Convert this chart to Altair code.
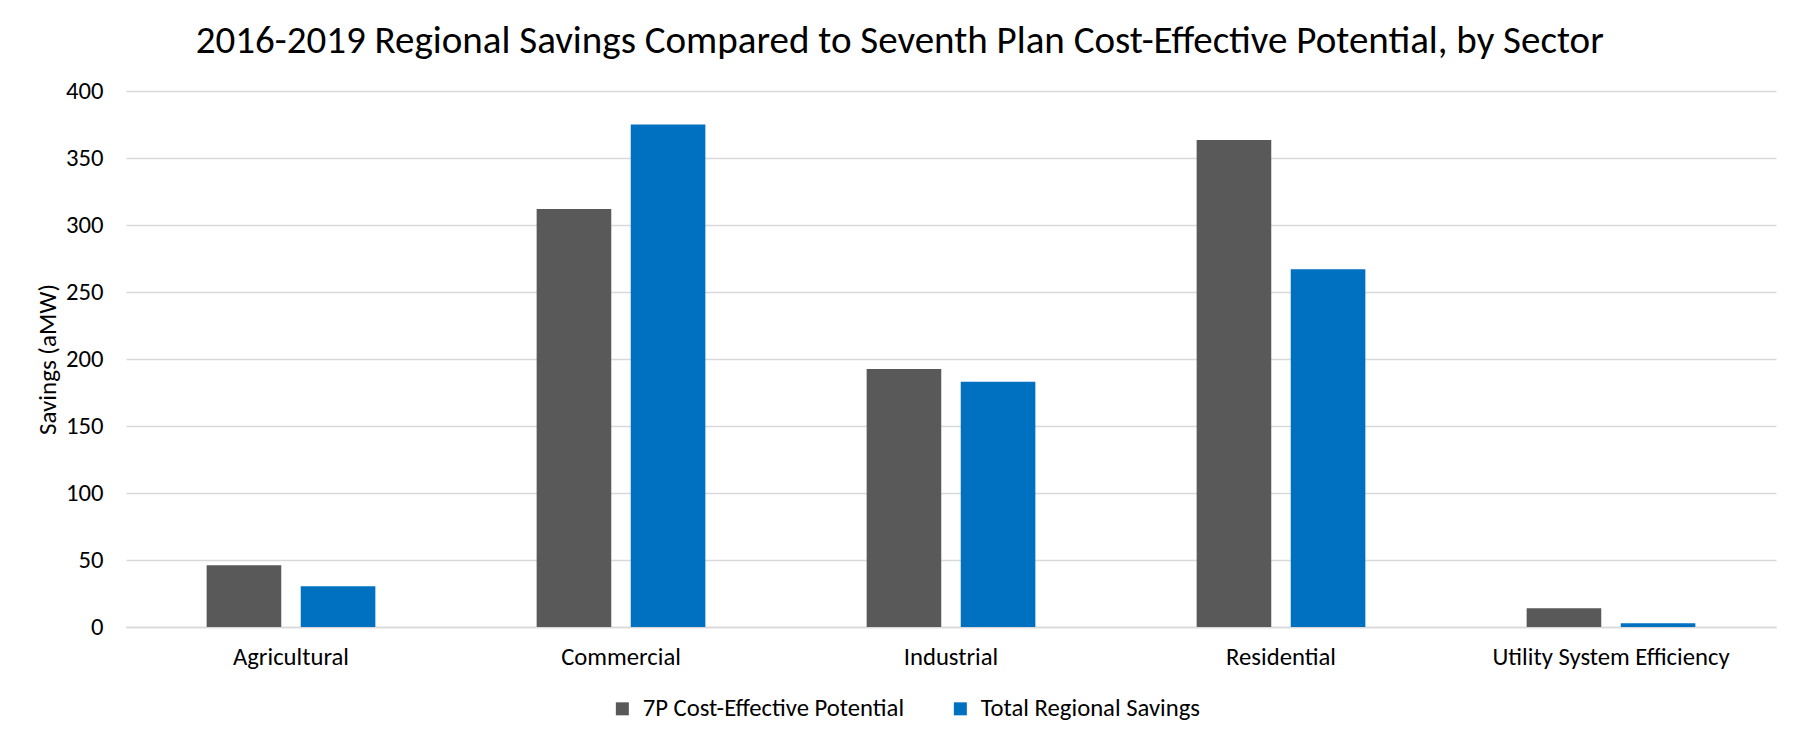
import altair as alt
import pandas as pd

sectors = ["Agricultural", "Commercial", "Industrial", "Residential", "Utility System Efficiency"]
series = ["7P Cost-Effective Potential", "Total Regional Savings"]
potential = [46, 312, 192.5, 363.5, 14]
savings = [30.5, 375, 183, 267, 2.8]
y_ticks = [0, 50, 100, 150, 200, 250, 300, 350, 400]
colors = ["#595959", "#0070C0"]

rows = []
for s, p, v in zip(sectors, potential, savings):
    rows.append({"Sector": s, "Series": series[0], "Value": p})
    rows.append({"Sector": s, "Series": series[1], "Value": v})
df = pd.DataFrame(rows)

FONT = "Carlito, Calibri, Lato, sans-serif"
FS = 24.7

chart = alt.Chart(df).mark_bar().encode(
    x=alt.X("Sector:N", sort=sectors,
            scale=alt.Scale(paddingInner=0, paddingOuter=0),
            axis=alt.Axis(title=None, labelAngle=0, ticks=False, tickSize=0,
                          domainColor="#D9D9D9", domainWidth=1.3,
                          labelPadding=17, labelFontSize=FS, labelColor="#000000",
                          labelFont=FONT, labelLimit=0)),
    xOffset=alt.XOffset("Series:N", sort=series,
                        scale=alt.Scale(paddingInner=0.207, paddingOuter=0.857)),
    y=alt.Y("Value:Q", scale=alt.Scale(domain=[0, 400]),
            axis=alt.Axis(title="Savings (aMW)", values=y_ticks, ticks=False, tickSize=0,
                          domain=False, gridColor="#D9D9D9", gridWidth=1.3,
                          labelPadding=23, labelFontSize=FS, labelColor="#000000",
                          labelFont=FONT, titleFont=FONT, titleFontSize=25,
                          titleFontWeight="normal", titleColor="#000000",
                          titlePadding=5, labelLimit=0)),
    color=alt.Color("Series:N",
                    scale=alt.Scale(domain=series, range=colors),
                    legend=alt.Legend(title=None, orient="none", direction="horizontal",
                                      legendX=484, legendY=605,
                                      symbolType="square", symbolSize=169,
                                      symbolStrokeWidth=0, labelFontSize=FS,
                                      labelFont=FONT, labelColor="#000000",
                                      labelOffset=8, columnPadding=43, labelLimit=0)),
).properties(
    width=1650,
    height=536,
    title=alt.TitleParams(
        "2016-2019 Regional Savings Compared to Seventh Plan Cost-Effective Potential, by Sector",
        font=FONT, fontSize=39, fontWeight="normal", color="#000000",
        anchor="middle", frame="bounds", offset=17, dx=-6),
    padding={"left": 27, "top": 14, "right": 5, "bottom": 5},
).configure_view(stroke=None)

chart.save("out.html", embed_options={"renderer": "svg", "actions": False})
